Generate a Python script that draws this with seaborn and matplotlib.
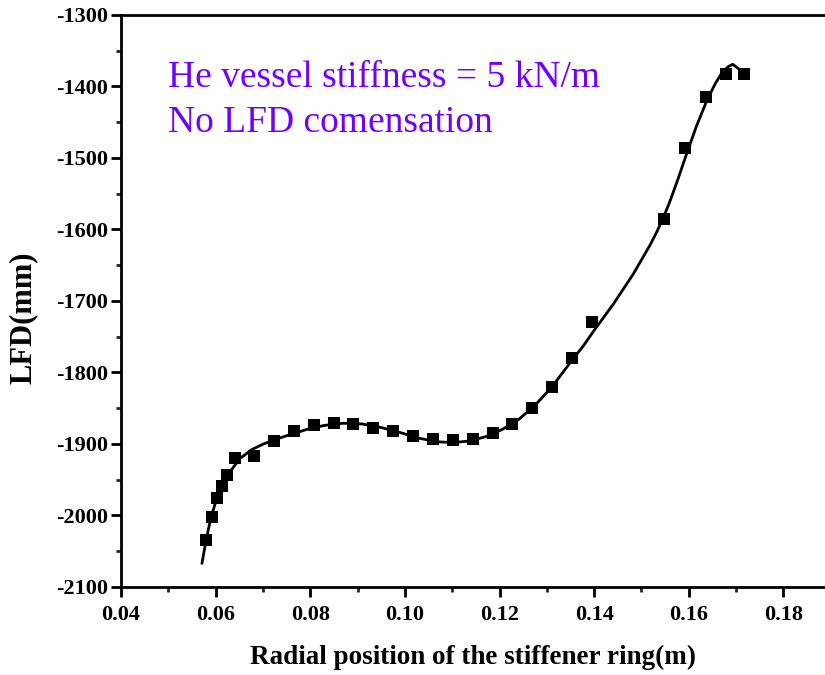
import numpy as np
import pandas as pd
import seaborn as sns
import matplotlib.pyplot as plt
from matplotlib.ticker import MultipleLocator

# measured points
radial_pos = [0.0580, 0.0592, 0.0602, 0.0613, 0.0625, 0.0641, 0.0681, 0.0723, 0.0766,
              0.0808, 0.0850, 0.0891, 0.0933, 0.0975, 0.1017, 0.1060, 0.1101, 0.1144,
              0.1186, 0.1227, 0.1269, 0.1311, 0.1353, 0.1396, 0.1548, 0.1593, 0.1637,
              0.1678, 0.1717]
lfd = [-2034, -2002, -1976, -1959, -1944, -1919, -1917, -1896, -1882,
       -1874, -1871, -1872, -1877, -1882, -1889, -1893, -1894, -1893,
       -1885, -1872, -1850, -1820, -1780, -1729, -1585, -1486, -1415,
       -1383, -1383]

# fitted curve
fit_x = [0.0571, 0.0580, 0.0590, 0.0602, 0.0616, 0.0630, 0.0652, 0.0676, 0.0701,
         0.0729, 0.0757, 0.0796, 0.0830, 0.0870, 0.0910, 0.0950, 0.0990, 0.1030,
         0.1070, 0.1101, 0.1135, 0.1170, 0.1205, 0.1240, 0.1275, 0.1311, 0.1353,
         0.1377, 0.1399, 0.1441, 0.1483, 0.1518, 0.1532, 0.1546, 0.1560, 0.1577,
         0.1594, 0.1616, 0.1638, 0.1656, 0.1670, 0.1684, 0.1693, 0.1705]
fit_y = [-2067, -2034, -2003, -1977, -1957, -1939, -1920, -1908, -1900,
         -1893, -1887, -1879, -1874, -1871, -1872, -1877, -1884, -1892,
         -1897, -1898, -1896, -1890, -1880, -1866, -1846, -1820, -1783,
         -1763, -1742, -1704, -1662, -1622, -1604, -1584, -1561, -1530,
         -1497, -1456, -1420, -1396, -1381, -1372, -1369, -1375]

pts = pd.DataFrame({"x": radial_pos, "y": lfd})
fit = pd.DataFrame({"x": fit_x, "y": fit_y})

sns.set_theme(style="ticks")
plt.rcParams['font.family'] = ['Liberation Serif', 'DejaVu Serif']
plt.rcParams['axes.unicode_minus'] = False

fig = plt.figure(figsize=(8.25, 6.75), dpi=100)
ax = fig.add_axes([0.1467, 0.1304, 0.8533, 0.8474])

sns.lineplot(data=fit, x="x", y="y", sort=False, color="black", linewidth=2.0, ax=ax)
sns.scatterplot(data=pts, x="x", y="y", marker="s", s=75, color="black",
                edgecolor="black", linewidth=0, zorder=3, ax=ax)

ax.set_xlim(0.04, 0.1888)
ax.set_ylim(-2100, -1300)
ax.xaxis.set_major_locator(MultipleLocator(0.02))
ax.xaxis.set_minor_locator(MultipleLocator(0.01))
ax.yaxis.set_major_locator(MultipleLocator(100))
ax.yaxis.set_minor_locator(MultipleLocator(50))
ax.xaxis.set_major_formatter(plt.FuncFormatter(lambda v, p: f"{v:.2f}"))

for side in ["left", "bottom", "top"]:
    ax.spines[side].set_linewidth(2.0)
    ax.spines[side].set_color("black")
ax.spines["right"].set_visible(False)

ax.tick_params(which="major", direction="out", length=7.2, width=2.0, labelsize=16,
               colors="black")
ax.tick_params(which="minor", direction="out", length=3.6, width=2.0)
ax.tick_params(axis="x", which="major", pad=6)
ax.tick_params(axis="y", which="major", pad=2)
for lab in ax.get_xticklabels() + ax.get_yticklabels():
    lab.set_fontweight("bold")

ax.set_xlabel("Radial position of the stiffener ring(m)", fontsize=19.5, fontweight="bold",
              color="black", labelpad=14)
ax.set_ylabel("LFD(mm)", fontsize=22, fontweight="bold", color="black")
ax.yaxis.set_label_coords(-0.118, 0.47)

ax.text(0.0499, -1401, "He vessel stiffness = 5 kN/m", color="#7000FF", fontsize=27,
        va="baseline")
ax.text(0.0499, -1464, "No LFD comensation", color="#7000FF", fontsize=27,
        va="baseline")

fig.savefig("out.png", dpi=100)
